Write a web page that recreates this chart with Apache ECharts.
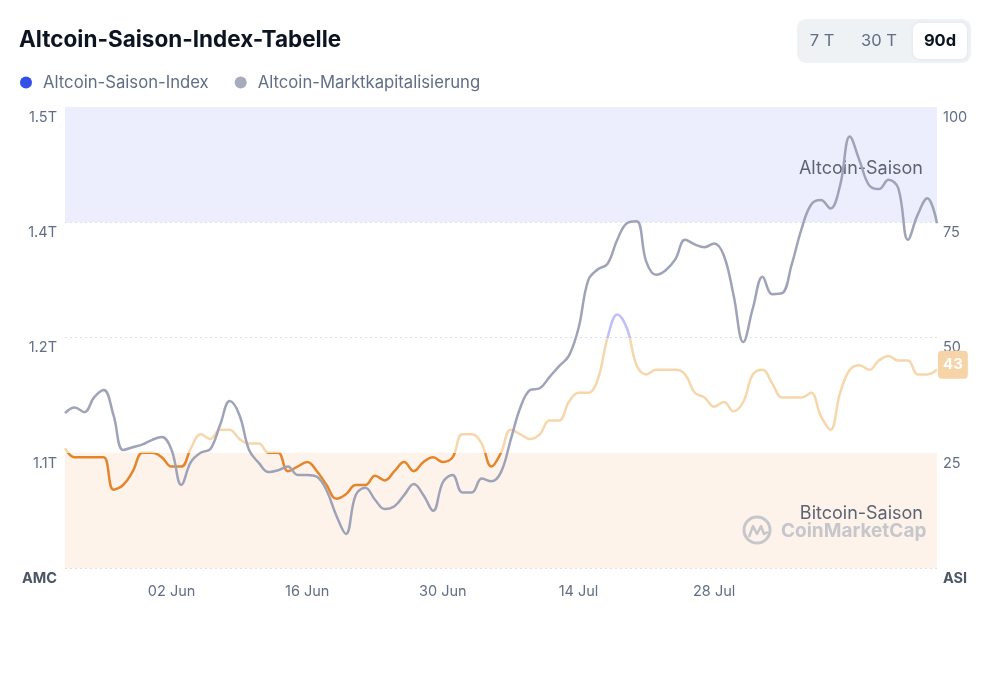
<!DOCTYPE html>
<html>
<head>
<meta charset="utf-8">
<script src="https://cdn.jsdelivr.net/npm/echarts@6/dist/echarts.min.js"></script>
<style>
html,body{margin:0;padding:0;background:#fff;}
#chart{width:1000px;height:699px;}
</style>
</head>
<body>
<div id="chart"></div>
<script>
const dates = [
 '22 May','23 May','24 May','25 May','26 May','27 May','28 May','29 May','30 May','31 May',
 '01 Jun','02 Jun','03 Jun','04 Jun','05 Jun','06 Jun','07 Jun','08 Jun','09 Jun','10 Jun',
 '11 Jun','12 Jun','13 Jun','14 Jun','15 Jun','16 Jun','17 Jun','18 Jun','19 Jun','20 Jun',
 '21 Jun','22 Jun','23 Jun','24 Jun','25 Jun','26 Jun','27 Jun','28 Jun','29 Jun','30 Jun',
 '01 Jul','02 Jul','03 Jul','04 Jul','05 Jul','06 Jul','07 Jul','08 Jul','09 Jul','10 Jul',
 '11 Jul','12 Jul','13 Jul','14 Jul','15 Jul','16 Jul','17 Jul','18 Jul','19 Jul','20 Jul',
 '21 Jul','22 Jul','23 Jul','24 Jul','25 Jul','26 Jul','27 Jul','28 Jul','29 Jul','30 Jul',
 '31 Jul','01 Aug','02 Aug','03 Aug','04 Aug','05 Aug','06 Aug','07 Aug','08 Aug','09 Aug',
 '10 Aug','11 Aug','12 Aug','13 Aug','14 Aug','15 Aug','16 Aug','17 Aug','18 Aug','19 Aug',
 '20 Aug'
];
const xTickLabels = ['02 Jun','16 Jun','30 Jun','14 Jul','28 Jul'];

// Altcoin Season Index (0-100)
const asiValues = [
 26,24,24,24,24,17,18,21,25,25,
 24,22,22,26,29,28,30,30,28,27,
 27,25,25,21,22,23,21,18,15,16,
 18,18,20,19,21,23,21,23,24,23,
 24,29,29,27,22,25,30,29,28,29,
 32,32,36,38,38,41,50,55,52,44,
 42,43,43,43,42,38,37,35,36,34,
 36,42,43,40,37,37,37,38,33,30,
 38,43,44,43,45,46,45,45,42,42,
 43
];
// Altcoin market cap (billions USD)
const mcapValues = [
 1168,1174,1169,1185,1193,1166,1128,1131,1134,1139,
 1142,1128,1090,1115,1125,1129,1155,1181,1166,1128,
 1114,1104,1106,1110,1101,1101,1099,1084,1057,1037,
 1079,1087,1074,1064,1067,1079,1091,1079,1062,1093,
 1101,1082,1082,1097,1094,1104,1139,1174,1193,1195,
 1207,1219,1230,1260,1312,1324,1330,1356,1374,1376,
 1332,1318,1323,1335,1356,1351,1348,1352,1339,1296,
 1245,1282,1316,1297,1298,1329,1367,1394,1399,1390,
 1415,1468,1442,1415,1411,1421,1412,1356,1383,1401,
 1374
];
const leftTickLabels = ['AMC','1.1T','1.2T','1.4T','1.5T'];
const rightTickLabels = ['ASI','25','50','75','100'];
const seriesNames = ['Altcoin-Saison-Index','Altcoin-Marktkapitalisierung'];
const zoneLabels = ['Altcoin-Saison','Bitcoin-Saison'];
const rangeButtons = ['7 T','30 T','90d'];

const FONT = 'Inter, "Noto Sans", sans-serif';
const chart = echarts.init(document.getElementById('chart'));

const option = {
  animation: false,
  backgroundColor: '#ffffff',
  title: {
    text: 'Altcoin-Saison-Index-Tabelle',
    left: 19, top: 29, padding: 0,
    textStyle: {fontFamily: FONT, fontSize: 22.5, fontWeight: 'bold', color: '#0d1421'}
  },
  legend: {
    left: 20, top: 74, padding: 0,
    itemWidth: 24, itemHeight: 12, itemGap: 26,
    icon: 'circle',
    data: [
      {name: seriesNames[0], itemStyle: {color: '#3350e8'}},
      {name: seriesNames[1], itemStyle: {color: '#a8abbb'}}
    ],
    textStyle: {fontFamily: FONT, fontSize: 16.7, color: '#616e85'}
  },
  grid: {left: 65, right: 63, top: 107, bottom: 131},
  visualMap: {
    show: false, type: 'piecewise', seriesIndex: 0, dimension: 1,
    pieces: [
      {lte: 25, color: '#e4852b'},
      {gt: 25, lte: 50, color: '#f6d6ab'},
      {gt: 50, lte: 75, color: '#bdc1f7'},
      {gt: 75, color: '#3e5bf0'}
    ]
  },
  xAxis: {
    type: 'category', data: dates, boundaryGap: false,
    axisLine: {show: false}, axisTick: {show: false},
    axisLabel: {
      interval: function (idx, val) { return xTickLabels.indexOf(val) >= 0; },
      fontFamily: FONT, fontSize: 14.5, color: '#616e85', margin: 16
    },
    splitLine: {show: false}
  },
  yAxis: [
    {
      type: 'value', min: 1000, max: 1500, interval: 125, position: 'left',
      axisLine: {show: false}, axisTick: {show: false},
      splitLine: {show: true, lineStyle: {color: '#dcdfe6', type: [2, 3], width: 1}},
      axisLabel: {
        margin: 8, verticalAlign: 'top', padding: [3, 0, 0, 0],
        formatter: function (v) {
          const i = Math.round((v - 1000) / 125);
          return i === 0 ? '{b|' + leftTickLabels[i] + '}' : leftTickLabels[i];
        },
        fontFamily: FONT, fontSize: 14.5, color: '#616e85',
        rich: {b: {fontFamily: FONT, fontSize: 14.5, fontWeight: 'bold', color: '#4d5565'}}
      }
    },
    {
      type: 'value', min: 0, max: 100, interval: 25, position: 'right',
      axisLine: {show: false}, axisTick: {show: false},
      splitLine: {show: false},
      axisLabel: {
        margin: 6, verticalAlign: 'top', padding: [3, 0, 0, 0],
        formatter: function (v) {
          const i = Math.round(v / 25);
          return i === 0 ? '{b|' + rightTickLabels[i] + '}' : rightTickLabels[i];
        },
        fontFamily: FONT, fontSize: 14.5, color: '#616e85',
        rich: {b: {fontFamily: FONT, fontSize: 14.5, fontWeight: 'bold', color: '#4d5565'}}
      }
    }
  ],
  series: [
    {
      name: seriesNames[0], type: 'line', yAxisIndex: 1,
      data: asiValues, smooth: 0.4, showSymbol: false, symbol: 'none',
      itemStyle: {color: '#3350e8'},
      lineStyle: {width: 2.5},
      z: 3,
      endLabel: {
        show: true, distance: 1,
        formatter: '{c}',
        color: '#ffffff', fontFamily: FONT, fontSize: 15, fontWeight: 'bold',
        backgroundColor: '#f6d4a8', borderRadius: 4, padding: [7, 5, 6, 5],
        offset: [0, -5]
      },
      markArea: {
        silent: true,
        data: [
          [{yAxis: 75, itemStyle: {color: '#eceefd'},
            label: {show: true, position: 'insideRight', distance: 14, formatter: zoneLabels[0],
                    color: '#5d6373', fontFamily: FONT, fontSize: 18, offset: [0, 4]}},
           {yAxis: 100}],
          [{yAxis: 0, itemStyle: {color: '#fdf3eb'},
            label: {show: true, position: 'insideRight', distance: 14, formatter: zoneLabels[1],
                    color: '#5d6373', fontFamily: FONT, fontSize: 18, offset: [0, 3]}},
           {yAxis: 25}]
        ]
      }
    },
    {
      name: seriesNames[1], type: 'line', yAxisIndex: 0,
      data: mcapValues, smooth: 0.4, showSymbol: false, symbol: 'none',
      itemStyle: {color: '#a8abbb'},
      lineStyle: {width: 2.5, color: '#9fa3b8'},
      z: 4
    }
  ],
  graphic: [
    {type: 'rect', shape: {x: 797, y: 19, width: 174, height: 44, r: 9},
     style: {fill: '#eff2f5'}, z: 10},
    {type: 'rect', shape: {x: 913, y: 23, width: 54, height: 36, r: 7},
     style: {fill: '#ffffff', shadowBlur: 4, shadowColor: 'rgba(0,0,0,0.06)'}, z: 11},
    {type: 'text', x: 822, y: 41, z: 12,
     style: {text: rangeButtons[0], fill: '#616e85', font: '16.5px ' + FONT, align: 'center', verticalAlign: 'middle'}},
    {type: 'text', x: 879, y: 41, z: 12,
     style: {text: rangeButtons[1], fill: '#616e85', font: '16.5px ' + FONT, align: 'center', verticalAlign: 'middle'}},
    {type: 'text', x: 940, y: 41, z: 12,
     style: {text: rangeButtons[2], fill: '#0d1421', font: 'bold 16.5px ' + FONT, align: 'center', verticalAlign: 'middle'}},
    // watermark
    {type: 'circle', shape: {cx: 757, cy: 530, r: 13}, z: 5,
     style: {fill: 'none', stroke: '#c6c6cb', lineWidth: 3}},
    {type: 'polyline', shape: {points: [[749, 537], [753, 526], [757, 534], [761, 526], [764, 534], [768, 532]]}, z: 5,
     style: {fill: 'none', stroke: '#c6c6cb', lineWidth: 2.5, lineJoin: 'round'}},
    {type: 'text', x: 781, y: 531, z: 5,
     style: {text: 'CoinMarketCap', fill: '#c6c6cb', font: 'bold 19px ' + FONT, verticalAlign: 'middle'}}
  ]
};
chart.setOption(option);
</script>
</body>
</html>
